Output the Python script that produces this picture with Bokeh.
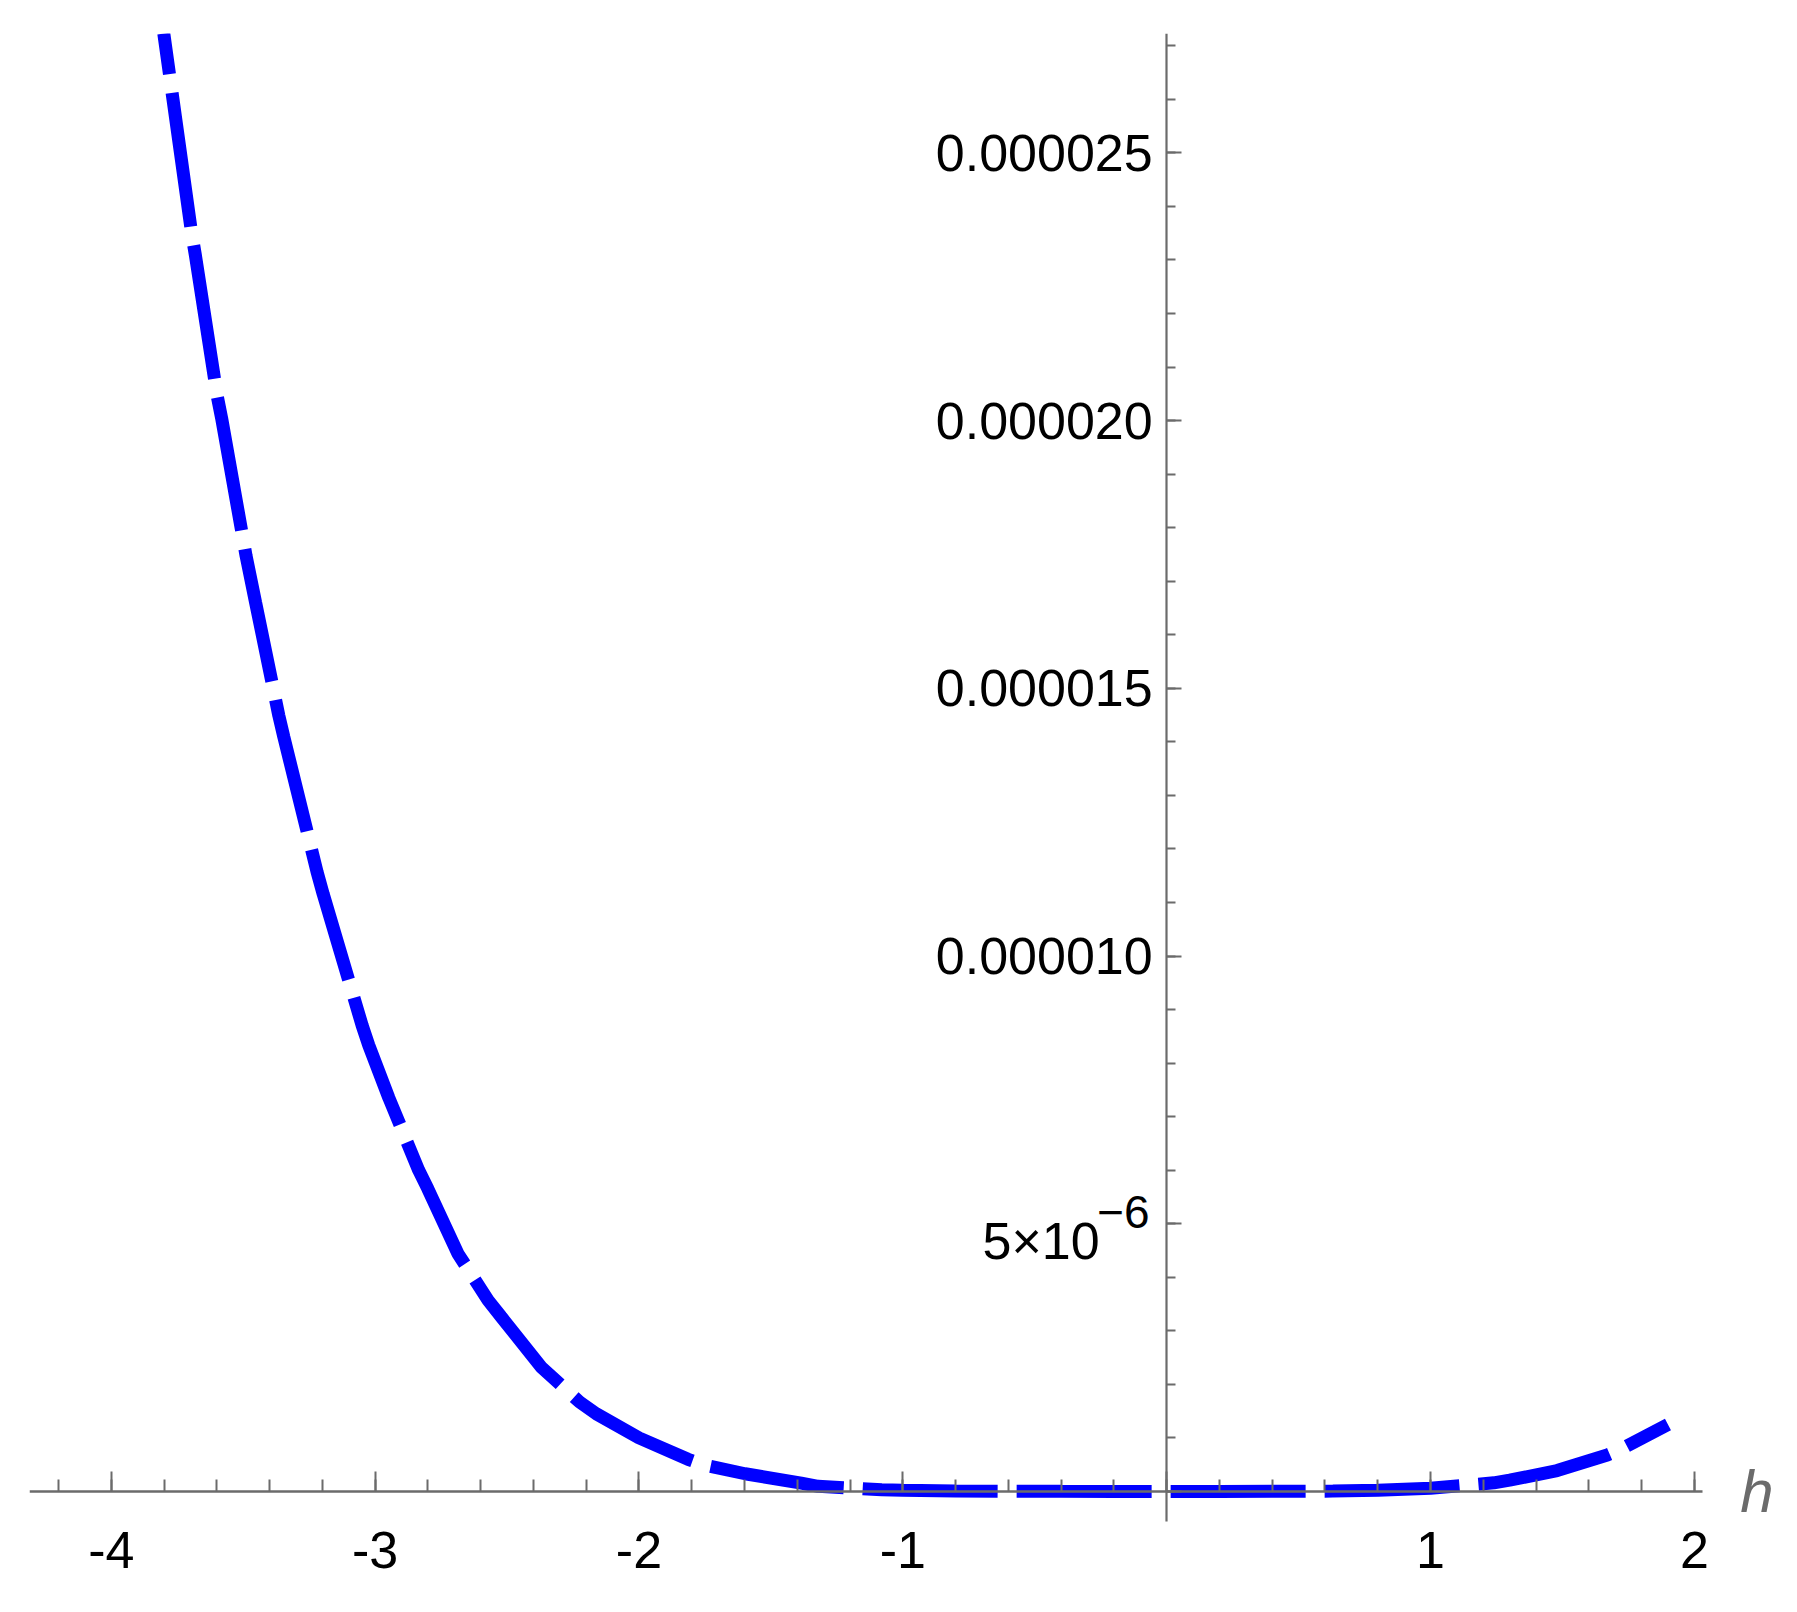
from bokeh.plotting import figure
from bokeh.models import Range1d, SingleIntervalTicker, CustomJSTickFormatter, Label
from bokeh.embed import file_html
from bokeh.resources import INLINE

# curve (h, value in units of 1e-6)
h_vals = [-3.801, -3.769, -3.696, -3.681, -3.599, -3.582, -3.489, -3.453, -3.365,
          -3.346, -3.220, -3.197, -3.049, -3.024, -2.948, -2.835, -2.800, -2.686,
          -2.572, -2.522, -2.370, -2.225, -2.162, -2.000, -1.814, -1.751, -1.598,
          -1.385, -1.321, -1.080, -1.000, -0.800, -0.600, -0.400, -0.200, 0.000,
          0.200, 0.400, 0.630, 0.800, 1.000, 1.240, 1.300, 1.480, 1.670, 1.726, 1.900]
v_micro = [27.23, 26.10, 23.52, 23.08, 20.47, 20.05, 17.47, 16.60, 14.49,
           14.09, 11.57, 11.16, 8.70, 8.33, 7.35, 6.00, 5.65, 4.44,
           3.57, 3.26, 2.32, 1.67, 1.45, 1.00, 0.60, 0.49, 0.33,
           0.155, 0.095, 0.03, 0.02, 0.008, 0.003, 0.001, 0.0, 0.0,
           0.0, 0.002, 0.006, 0.02, 0.06, 0.16, 0.21, 0.39, 0.68, 0.80, 1.25]
v_vals = [v * 1e-6 for v in v_micro]

x_axis_title = "h"
sci_label_main = "5×10"
sci_label_exp = "−6"

FONT = "Liberation Sans"
GRAY = "#6b6b6b"

p = figure(width=1789, height=1604, output_backend="svg", toolbar_location=None,
           x_range=Range1d(-4.31, 2.30), y_range=Range1d(-2.0e-6, 27.23e-6),
           min_border_left=29, min_border_right=16, min_border_top=33,
           min_border_bottom=6)
p.outline_line_color = None
p.xgrid.visible = False
p.ygrid.visible = False
p.background_fill_color = "white"
p.border_fill_color = "white"

p.line(h_vals, v_vals, line_color="#0000ff", line_width=13,
       line_dash="135 19", line_dash_offset=94)

xa = p.xaxis[0]
xa.fixed_location = 0
xa.bounds = (-4.31, 2.03)
xa.ticker = SingleIntervalTicker(interval=1, num_minor_ticks=5)
xa.formatter = CustomJSTickFormatter(code="""
if (Math.abs(tick) < 1e-9) return "";
return tick.toFixed(0);
""")
ya = p.yaxis[0]
ya.fixed_location = 0
ya.bounds = (-0.56e-6, 27.23e-6)
ya.ticker = SingleIntervalTicker(interval=5e-6, num_minor_ticks=5)
ya.formatter = CustomJSTickFormatter(code="""
if (Math.abs(tick) < 1e-12) return "";
if (Math.abs(tick - 5e-6) < 1e-12) return "";
return tick.toFixed(6);
""")

for ax, tin, min_in, standoff, lw in ((xa, 20, 12, 41, 2.5), (ya, 15, 9, 14, 2.2)):
    ax.axis_line_color = GRAY
    ax.axis_line_width = lw
    ax.major_tick_in = tin
    ax.major_tick_out = 0
    ax.minor_tick_in = min_in
    ax.minor_tick_out = 0
    ax.major_tick_line_color = GRAY
    ax.minor_tick_line_color = GRAY
    ax.major_tick_line_width = 2
    ax.minor_tick_line_width = 2
    ax.major_label_text_font = FONT
    ax.major_label_text_font_size = "52px"
    ax.major_label_text_color = "black"
    ax.major_label_standoff = standoff

p.add_layout(Label(x=0, y=5e-6, x_offset=-67, y_offset=-17, text=sci_label_main,
                   text_align="right", text_baseline="alphabetic",
                   text_font=FONT, text_font_size="52px", text_color="black"))
p.add_layout(Label(x=0, y=5e-6, x_offset=-17, y_offset=12, text=sci_label_exp,
                   text_align="right", text_baseline="alphabetic",
                   text_font=FONT, text_font_size="46px", text_color="black"))
p.add_layout(Label(x=2.03, y=0, x_offset=38, y_offset=0, text=x_axis_title,
                   text_align="left", text_baseline="middle", text_font=FONT,
                   text_font_style="italic", text_font_size="60px", text_color=GRAY))

open("out.html", "w").write(file_html(p, INLINE))
